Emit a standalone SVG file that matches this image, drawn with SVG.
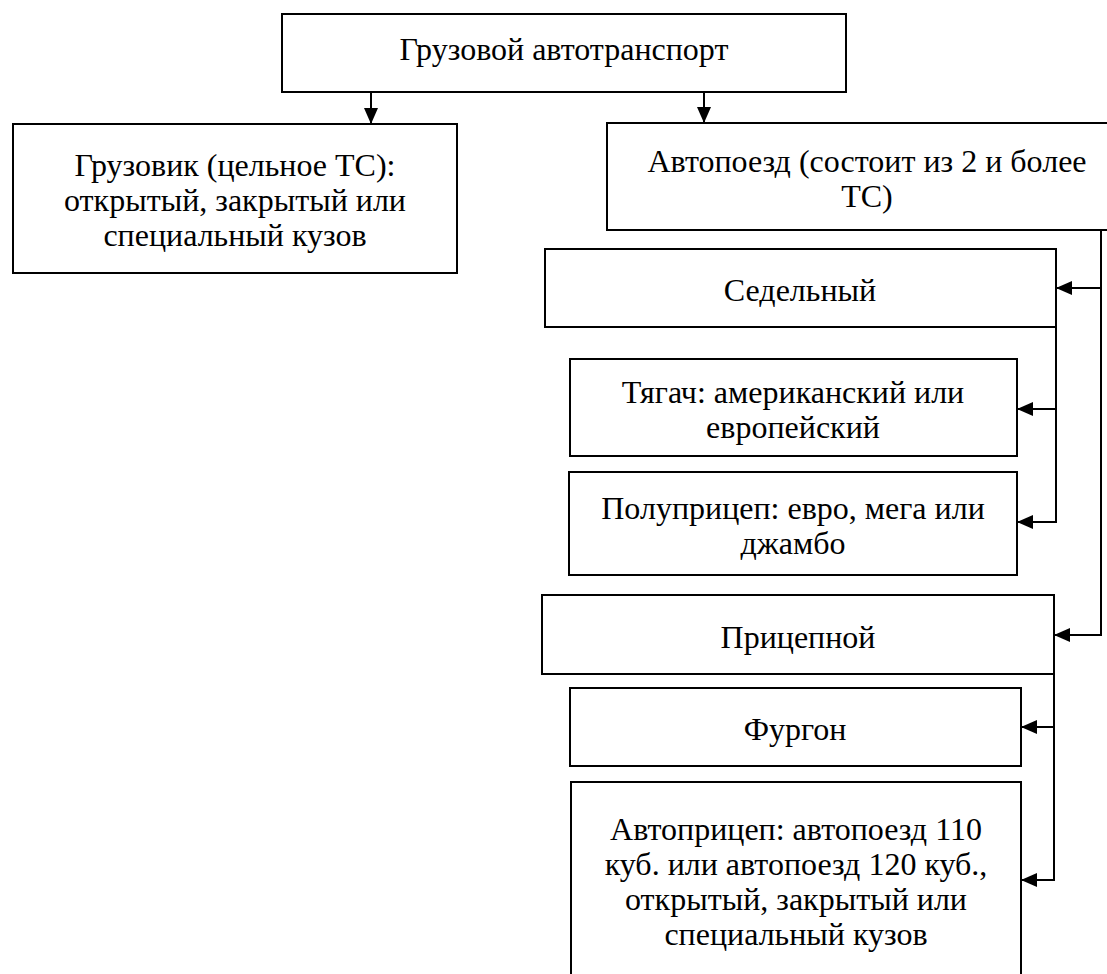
<svg xmlns="http://www.w3.org/2000/svg" width="1107" height="974" viewBox="0 0 1107 974">
<style>
.box{fill:#fff;stroke:#000;stroke-width:2}
.t{font-family:"Liberation Serif","Times New Roman",serif;font-size:32px;fill:#000;text-anchor:middle}
.c{fill:none;stroke:#000;stroke-width:2}
</style>
<defs>
<marker id="ah" markerUnits="userSpaceOnUse" markerWidth="16" markerHeight="14" refX="16" refY="7" orient="auto">
<path d="M0,0 L16,7 L0,14 z" fill="#000"/>
</marker>
</defs>
<rect width="1107" height="974" fill="#fff"/>
<g id="connectors">
<path class="c" d="M371,92 V124" marker-end="url(#ah)"/>
<path class="c" d="M704,92 V123" marker-end="url(#ah)"/>
<path class="c" d="M1101,230 V288 H1056" marker-end="url(#ah)"/>
<path class="c" d="M1101,288 V635 H1054" marker-end="url(#ah)"/>
<path class="c" d="M1056,327 V409 H1017" marker-end="url(#ah)"/>
<path class="c" d="M1056,409 V522 H1017" marker-end="url(#ah)"/>
<path class="c" d="M1054,674 V727 H1021" marker-end="url(#ah)"/>
<path class="c" d="M1054,727 V880 H1021" marker-end="url(#ah)"/>
</g>
<g id="n-root">
<rect class="box" x="282" y="14" width="564" height="78"/>
<text class="t" x="564" y="60">Грузовой автотранспорт</text>
</g>
<g id="n-truck">
<rect class="box" x="13" y="124" width="444" height="149"/>
<text class="t" x="235" y="176">Грузовик (цельное ТС):</text>
<text class="t" x="235" y="211">открытый, закрытый или</text>
<text class="t" x="235" y="246">специальный кузов</text>
</g>
<g id="n-roadtrain">
<rect class="box" x="607" y="123" width="520" height="107"/>
<text class="t" x="867" y="172">Автопоезд (состоит из 2 и более</text>
<text class="t" x="867" y="207">ТС)</text>
</g>
<g id="n-saddle">
<rect class="box" x="545" y="249" width="511" height="78"/>
<text class="t" x="800" y="301">Седельный</text>
</g>
<g id="n-tractor">
<rect class="box" x="570" y="359" width="447" height="97"/>
<text class="t" x="793" y="403">Тягач: американский или</text>
<text class="t" x="793" y="438">европейский</text>
</g>
<g id="n-semitrailer">
<rect class="box" x="569" y="472" width="448" height="103"/>
<text class="t" x="793" y="519">Полуприцеп: евро, мега или</text>
<text class="t" x="793" y="554">джамбо</text>
</g>
<g id="n-trailer">
<rect class="box" x="542" y="595" width="512" height="79"/>
<text class="t" x="798" y="648">Прицепной</text>
</g>
<g id="n-van">
<rect class="box" x="570" y="688" width="451" height="78"/>
<text class="t" x="795" y="740">Фургон</text>
</g>
<g id="n-autotrailer">
<rect class="box" x="571" y="782" width="450" height="196"/>
<text class="t" x="796" y="840">Автоприцеп: автопоезд 110</text>
<text class="t" x="796" y="875">куб. или автопоезд 120 куб.,</text>
<text class="t" x="796" y="910">открытый, закрытый или</text>
<text class="t" x="796" y="945">специальный кузов</text>
</g>
</svg>
